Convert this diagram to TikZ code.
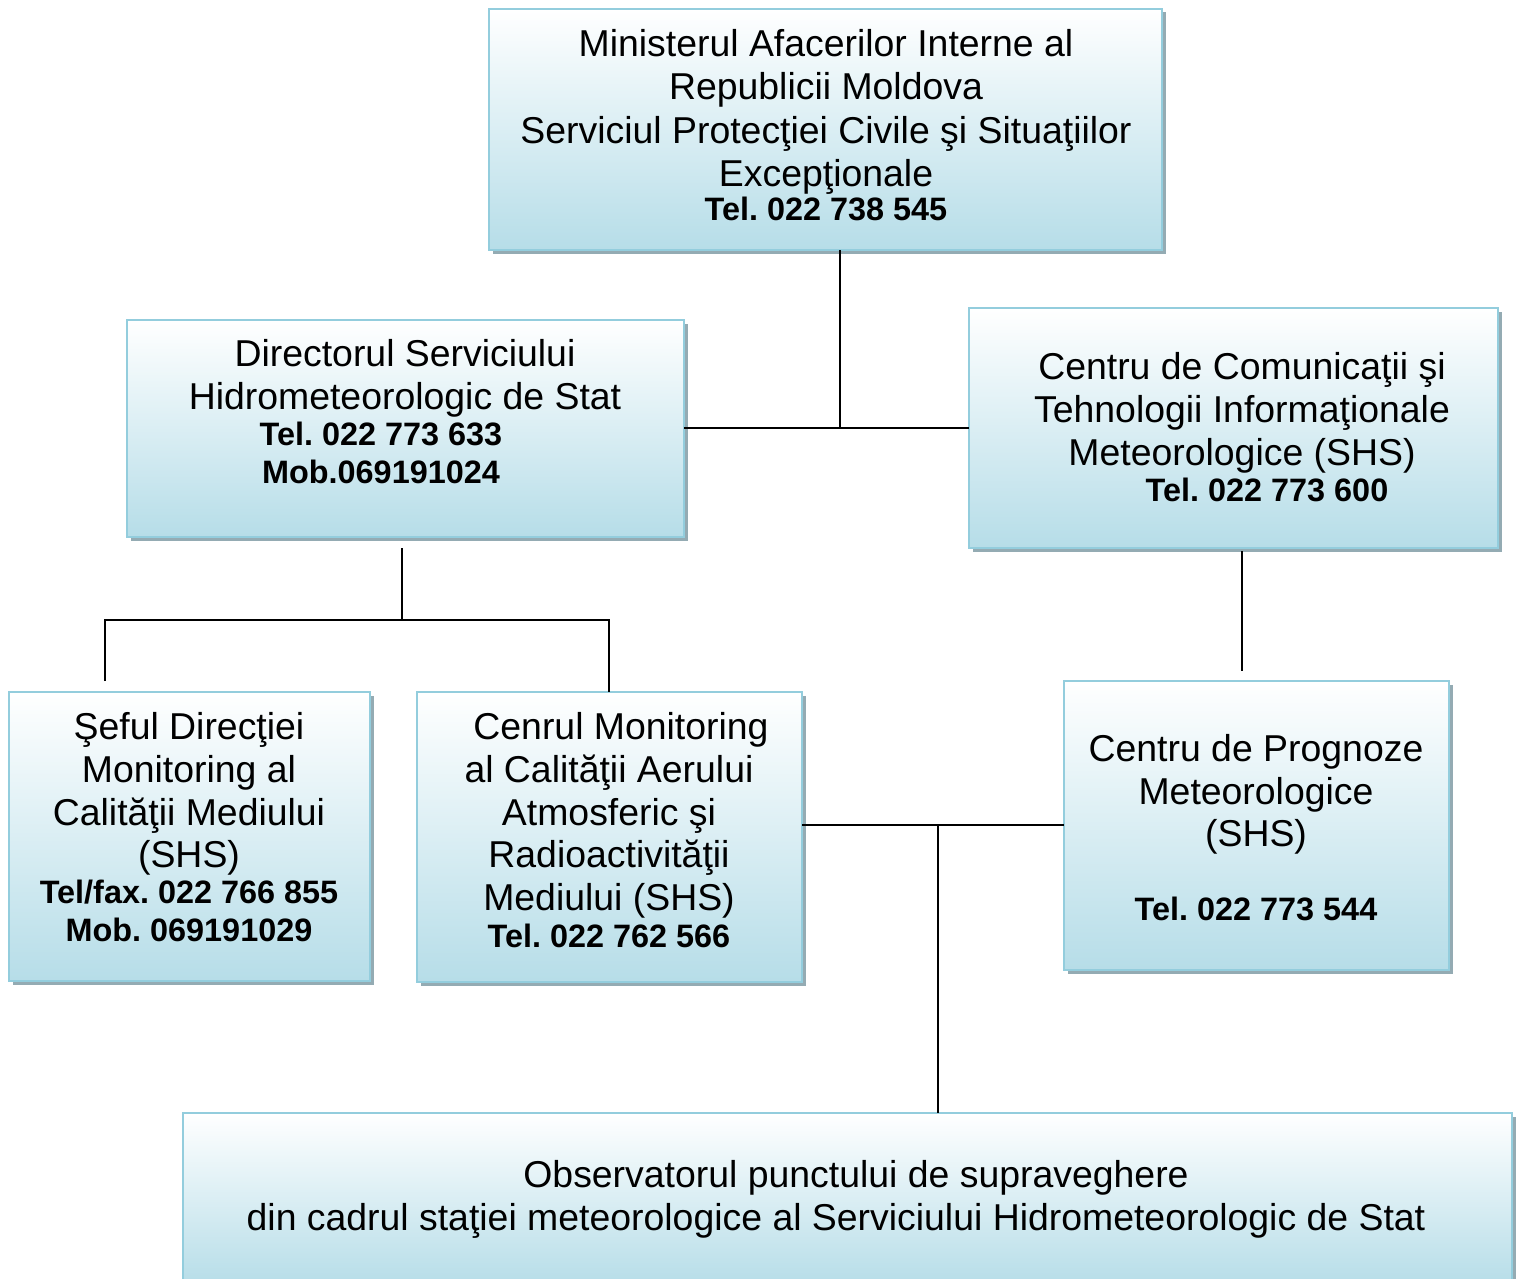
\documentclass[tikz,border=0pt]{standalone}
\usepackage{fontspec}
\setmainfont{Liberation Sans}
\usetikzlibrary{shadows}
\definecolor{bord}{HTML}{93CDDD}
\definecolor{grad}{HTML}{B6DDE8}
\definecolor{shad}{HTML}{94ABB3}
\tikzset{
  orgbox/.style={rectangle, draw=bord, line width=1.3pt, top color=white, bottom color=grad,
    inner sep=0pt, outer sep=0pt,
    general shadow={fill=shad, shadow xshift=1.75pt, shadow yshift=-1.75pt}},
  reg/.style={anchor=base, inner sep=0pt, font=\fontsize{18.7}{22}\selectfont},
  bld/.style={anchor=base, inner sep=0pt, font=\fontsize{16.2}{19}\selectfont\bfseries},
  conn/.style={draw=black, line width=1pt}
}
\newcommand\txl[4]{\node[#2] (#1) at (#3) {#4};}
\frenchspacing
\begin{document}
\begin{tikzpicture}[x=0.5pt,y=-0.5pt]
\useasboundingbox (0,0) rectangle (1520,1279);
\clip (0,0) rectangle (1520,1279);
% boxes
\node[orgbox, minimum width=336.5pt, minimum height=120.5pt] (top) at (825.5,129.5) {};
\node[orgbox, minimum width=278.5pt, minimum height=108.5pt] (dir) at (405.5,428.5) {};
\node[orgbox, minimum width=264.5pt, minimum height=120pt] (cc) at (1233.5,428) {};
\node[orgbox, minimum width=180.5pt, minimum height=144.5pt] (sef) at (189.5,836.5) {};
\node[orgbox, minimum width=192.5pt, minimum height=145pt] (cen) at (609.5,837) {};
\node[orgbox, minimum width=192.5pt, minimum height=144.5pt] (prog) at (1256.5,825.5) {};
\node[orgbox, minimum width=664.5pt, minimum height=86pt] (obs) at (847.5,1199) {};
% texts
\txl{t1}{reg}{826,57}{Ministerul Afacerilor Interne al}
\txl{t2}{reg}{826,100}{Republicii Moldova}
\txl{t3}{reg}{826,143}{Serviciul Protecţiei Civile şi Situaţiilor}
\txl{t4}{reg}{826,186}{Excepţionale}
\txl{t5}{bld}{826,220}{Tel. 022 738 545}
\txl{d1}{reg}{405,366}{Directorul Serviciului}
\txl{d2}{reg}{405,409}{Hidrometeorologic de Stat}
\txl{d3}{bld}{381,445}{Tel. 022 773 633}
\txl{d4}{bld}{381,483}{Mob.069191024}
\txl{c1}{reg}{1242,379}{Centru de Comunicaţii şi}
\txl{c2}{reg}{1242,422}{Tehnologii Informaţionale}
\txl{c3}{reg}{1242,465}{Meteorologice (SHS)}
\txl{c4}{bld}{1267,501}{Tel. 022 773 600}
\txl{s1}{reg}{189,739}{Şeful Direcţiei}
\txl{s2}{reg}{189,782}{Monitoring al}
\txl{s3}{reg}{189,825}{Calităţii Mediului}
\txl{s4}{reg}{189,867}{(SHS)}
\txl{s5}{bld}{189,903}{Tel/fax. 022 766 855}
\txl{s6}{bld}{189,941}{Mob. 069191029}
\txl{m1}{reg}{621,739}{Cenrul Monitoring}
\txl{m2}{reg}{609,782}{al Calităţii Aerului}
\txl{m3}{reg}{609,825}{Atmosferic şi}
\txl{m4}{reg}{609,867}{Radioactivităţii}
\txl{m5}{reg}{609,910}{Mediului (SHS)}
\txl{m6}{bld}{609,947}{Tel. 022 762 566}
\txl{p1}{reg}{1256,761}{Centru de Prognoze}
\txl{p2}{reg}{1256,804}{Meteorologice}
\txl{p3}{reg}{1256,846}{(SHS)}
\txl{p4}{bld}{1256,920}{Tel. 022 773 544}
\txl{o1}{reg}{856,1187}{Observatorul punctului de supraveghere}
\txl{o2}{reg}{836,1230}{din cadrul staţiei meteorologice al Serviciului Hidrometeorologic de Stat}
% junctions
\coordinate (j1) at (840,428);
\coordinate (j2) at (402,620);
\coordinate (j2s) at (402,548);
\coordinate (j3) at (105,620);
\coordinate (j3e) at (105,681);
\coordinate (j4) at (609,620);
\coordinate (k1) at (1242,551);
\coordinate (k2) at (1242,671);
\coordinate (j5) at (938,825);
% connectors
\draw[conn] (top.south -| j1) -- (j1);
\draw[conn] (dir.east |- j1) -- (cc.west |- j1);
\draw[conn] (j2s) -- (j2);
\draw[conn] (j3e) -- (j3) -- (j4) -- (cen.north -| j4);
\draw[conn] (k1) -- (k2);
\draw[conn] (cen.east |- j5) -- (prog.west |- j5);
\draw[conn] (j5) -- (obs.north -| j5);
\end{tikzpicture}
\end{document}
